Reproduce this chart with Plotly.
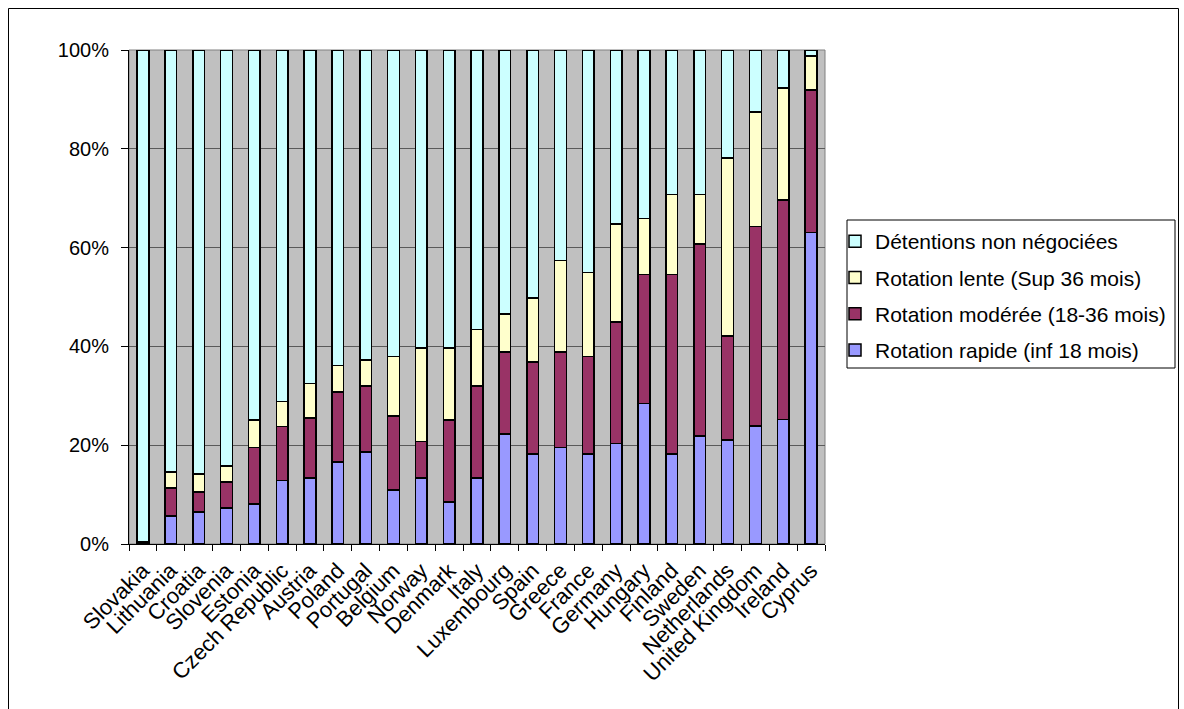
import plotly.graph_objects as go

# Share of holdings by rotation speed, per country (percent of total)
countries = [
    "Slovakia", "Lithuania", "Croatia", "Slovenia", "Estonia", "Czech Republic",
    "Austria", "Poland", "Portugal", "Belgium", "Norway", "Denmark", "Italy",
    "Luxembourg", "Spain", "Greece", "France", "Germany", "Hungary", "Finland",
    "Sweden", "Netherlands", "United Kingdom", "Ireland", "Cyprus",
]
rapide = [0.2, 5.7, 6.5, 7.3, 8.1, 12.9, 13.4, 16.6, 18.6, 10.9, 13.4, 8.5, 13.4,
          22.3, 18.2, 19.5, 18.2, 20.3, 28.4, 18.2, 21.9, 21.1, 23.9, 25.2, 63.1]
moderee = [0.2, 5.6, 4.0, 5.3, 11.4, 10.9, 12.1, 14.2, 13.4, 15.0, 7.3, 16.6, 18.6,
           16.6, 18.6, 19.4, 19.8, 24.6, 26.2, 36.4, 38.8, 21.0, 40.4, 44.4, 28.8]
lente = [0.0, 3.3, 3.7, 3.2, 5.6, 5.0, 7.0, 5.3, 5.2, 12.1, 19.0, 14.6, 11.4,
         7.7, 13.0, 18.5, 17.0, 19.9, 11.3, 16.2, 10.1, 36.0, 23.2, 22.7, 6.9]
non_negociees = [99.6, 85.4, 85.8, 84.2, 74.9, 71.2, 67.5, 63.9, 62.8, 62.0, 60.3,
                 60.3, 56.6, 53.4, 50.2, 42.6, 45.0, 35.2, 34.1, 29.2, 29.2, 21.9,
                 12.5, 7.7, 1.2]

y_ticks = [0, 20, 40, 60, 80, 100]
y_labels = ["0%", "20%", "40%", "60%", "80%", "100%"]

series = [
    ("Rotation rapide (inf 18 mois)", rapide, "#9999FF"),
    ("Rotation modérée (18-36 mois)", moderee, "#993366"),
    ("Rotation lente (Sup 36 mois)", lente, "#FFFFCC"),
    ("Détentions non négociées", non_negociees, "#CCFFFF"),
]

FONT = "Liberation Sans, Arial, sans-serif"

fig = go.Figure()
for i, (name, vals, color) in enumerate(series):
    fig.add_trace(go.Bar(
        x=countries, y=vals, name=name, legendgroup=f"g{i}",
        legendrank=100 - i,
        marker=dict(color=color, line=dict(color="black", width=1.5)),
    ))

W, H = 1184, 709
L, R, T, B = 129, 825, 50, 544   # plot area in pixels


def px_x(p):
    return (p - L) / (R - L)


def px_y(p):
    return (B - p) / (B - T)


fig.update_layout(
    width=W, height=H,
    margin=dict(l=L, r=W - R, t=T, b=H - B, pad=0),
    barmode="stack", bargap=0.58,
    paper_bgcolor="white", plot_bgcolor="#C0C0C0",
    font=dict(family=FONT, size=20, color="black"),
    showlegend=True,
    legend=dict(
        x=px_x(835), y=px_y(221), xanchor="left", yanchor="top",
        traceorder="grouped", tracegroupgap=6,
        font=dict(family=FONT, size=21, color="black"),
        bgcolor="rgba(0,0,0,0)", borderwidth=0,
    ),
    xaxis=dict(
        tickangle=-45, ticks="outside", tickson="boundaries", ticklen=6,
        tickcolor="black", showline=True, linecolor="black", linewidth=1,
        showgrid=False, tickfont=dict(size=22), ticklabelstandoff=4,
    ),
    yaxis=dict(
        range=[0, 100], tickvals=y_ticks, ticktext=y_labels,
        ticks="outside", ticklen=7, tickcolor="black", ticklabelstandoff=8,
        showline=True, linecolor="black", linewidth=1,
        showgrid=True, gridcolor="#5a5a5a", gridwidth=1, zeroline=False,
        tickfont=dict(size=20),
    ),
    shapes=[
        # plot area border
        dict(type="rect", xref="paper", yref="paper", x0=0, x1=1, y0=0, y1=1,
             line=dict(color="#808080", width=1), layer="below"),
        # legend frame
        dict(type="rect", xref="paper", yref="paper",
             x0=px_x(847), x1=px_x(1175), y0=px_y(368), y1=px_y(220),
             line=dict(color="black", width=1)),
        # chart frame
        dict(type="rect", xref="paper", yref="paper",
             x0=px_x(8.5), x1=px_x(1178.5), y0=px_y(720), y1=px_y(8.5),
             line=dict(color="black", width=1)),
    ],
)

fig.write_html("out.html")
